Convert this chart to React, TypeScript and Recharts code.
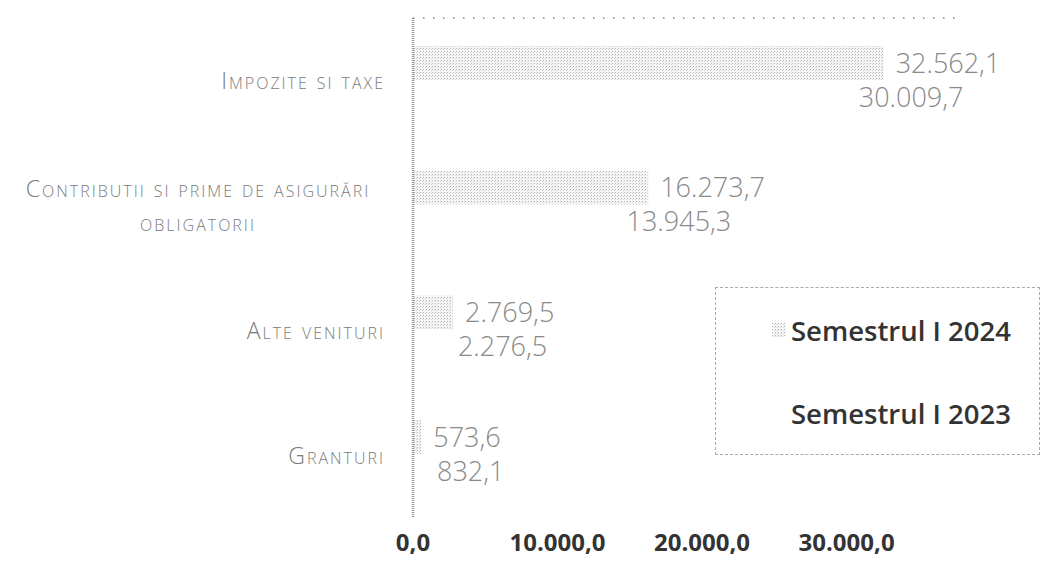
import React from 'react';
import { BarChart, Bar, XAxis, YAxis, Legend, LabelList } from 'recharts';

const categories = [
  'Impozite si taxe',
  'Contributii si prime de asigurări obligatorii',
  'Alte venituri',
  'Granturi',
];
const sem2024 = [32562.1, 16273.7, 2769.5, 573.6];
const sem2023 = [30009.7, 13945.3, 2276.5, 832.1];
const seriesNames = ['Semestrul I 2024', 'Semestrul I 2023'];
const xTicks = [0, 10000, 20000, 30000];

const data = categories.map((name, i) => ({ name, s2024: sem2024[i], s2023: sem2023[i] }));

const FONT = '"Open Sans", sans-serif';

// 32562.1 -> "32.562,1"
const fmt = (v: any) => {
  const [int, dec] = Math.abs(Number(v)).toFixed(1).split('.');
  return int.replace(/\B(?=(\d{3})+(?!\d))/g, '.') + ',' + dec;
};

const CategoryTick = ({ x, y, payload }: any) => {
  const words = String(payload.value).split(' ');
  const lines: string[] = [];
  let cur = '';
  words.forEach((w) => {
    const next = cur ? cur + ' ' + w : w;
    if (next.length > 34 && cur) {
      lines.push(cur);
      cur = w;
    } else cur = next;
  });
  lines.push(cur);
  const lh = 34;
  const y0 = y - ((lines.length - 1) * lh) / 2;
  const wrapped = lines.length > 1;
  const tx = wrapped ? x - 207 : x - 20;
  return (
    <text
      x={tx}
      y={y0}
      textAnchor={wrapped ? 'middle' : 'end'}
      dominantBaseline="central"
      fill="#7a7a7a"
      fontSize={23}
      fontWeight={300}
      letterSpacing={2}
      style={{ fontVariant: 'small-caps' }}
    >
      {lines.map((l, i) => (
        <tspan key={i} x={tx} y={y0 + i * lh}>
          {l}
        </tspan>
      ))}
    </text>
  );
};

const ValueTick = ({ x, y, payload }: any) => (
  <text x={x} y={y + 16} textAnchor="middle" dominantBaseline="central" fill="#333" fontSize={24} fontWeight={700}>
    {fmt(payload.value)}
  </text>
);

const LegendBox = () => (
  <div
    style={{
      width: 325,
      height: 168,
      border: '1px dashed #aaa',
      boxSizing: 'border-box',
      position: 'relative',
      fontFamily: FONT,
      background: '#fff',
    }}
  >
    {seriesNames.map((n, i) => (
      <div
        key={n}
        style={{ position: 'absolute', left: 56, top: 24 + i * 83, height: 36, display: 'flex', alignItems: 'center' }}
      >
        <svg width={14} height={14} style={{ marginRight: 5 }}>
          <rect width={14} height={14} fill={i === 0 ? 'url(#dots2024)' : '#fff'} />
        </svg>
        <span style={{ fontSize: 27.5, fontWeight: 600, color: '#333', whiteSpace: 'nowrap' }}>{n}</span>
      </div>
    ))}
  </div>
);

export default function App() {
  return (
    <div style={{ position: 'absolute', left: 0, top: 0, width: 1047, height: 563, background: '#fff', fontFamily: FONT }}>
      <BarChart
        width={1047}
        height={563}
        data={data}
        layout="vertical"
        margin={{ top: 17, right: 92, bottom: 0, left: 0 }}
        barGap={0}
        barSize={34}
      >
        <defs>
          <pattern id="dots2024" width="3" height="3" patternUnits="userSpaceOnUse">
            <rect width="3" height="3" fill="#f6f6f6" />
            <rect x="0" y="0" width="1" height="1" fill="#b4b4b4" />
            <rect x="2" y="1" width="1" height="1" fill="#d2d2d2" />
          </pattern>
        </defs>
        <XAxis
          type="number"
          domain={[0, 37500]}
          ticks={xTicks}
          axisLine={false}
          tickLine={false}
          height={46}
          tick={<ValueTick />}
        />
        <XAxis
          xAxisId="top"
          type="number"
          orientation="top"
          domain={[0, 37500]}
          height={1}
          tick={false}
          tickLine={false}
          axisLine={{ stroke: '#888', strokeWidth: 1.5, strokeDasharray: '1.5 8.5' }}
        />
        <YAxis
          type="category"
          dataKey="name"
          width={413}
          tickLine={false}
          axisLine={{ stroke: '#999', strokeWidth: 2.5, strokeDasharray: '1 1' }}
          tick={<CategoryTick />}
          interval={0}
        />
        <Legend
          layout="horizontal"
          align="center"
          verticalAlign="middle"
          wrapperStyle={{ left: 715, top: 287, width: 325, height: 168 }}
          content={<LegendBox />}
        />
        <Bar dataKey="s2024" name={seriesNames[0]} fill="url(#dots2024)" isAnimationActive={false}>
          <LabelList dataKey="s2024" position="right" offset={12} formatter={fmt} fill="#8a8a8a" fontSize={27} fontWeight={300} />
        </Bar>
        <Bar dataKey="s2023" name={seriesNames[1]} fill="#ffffff" isAnimationActive={false}>
          <LabelList dataKey="s2023" position="right" offset={12} formatter={fmt} fill="#8a8a8a" fontSize={27} fontWeight={300} />
        </Bar>
      </BarChart>
    </div>
  );
}
